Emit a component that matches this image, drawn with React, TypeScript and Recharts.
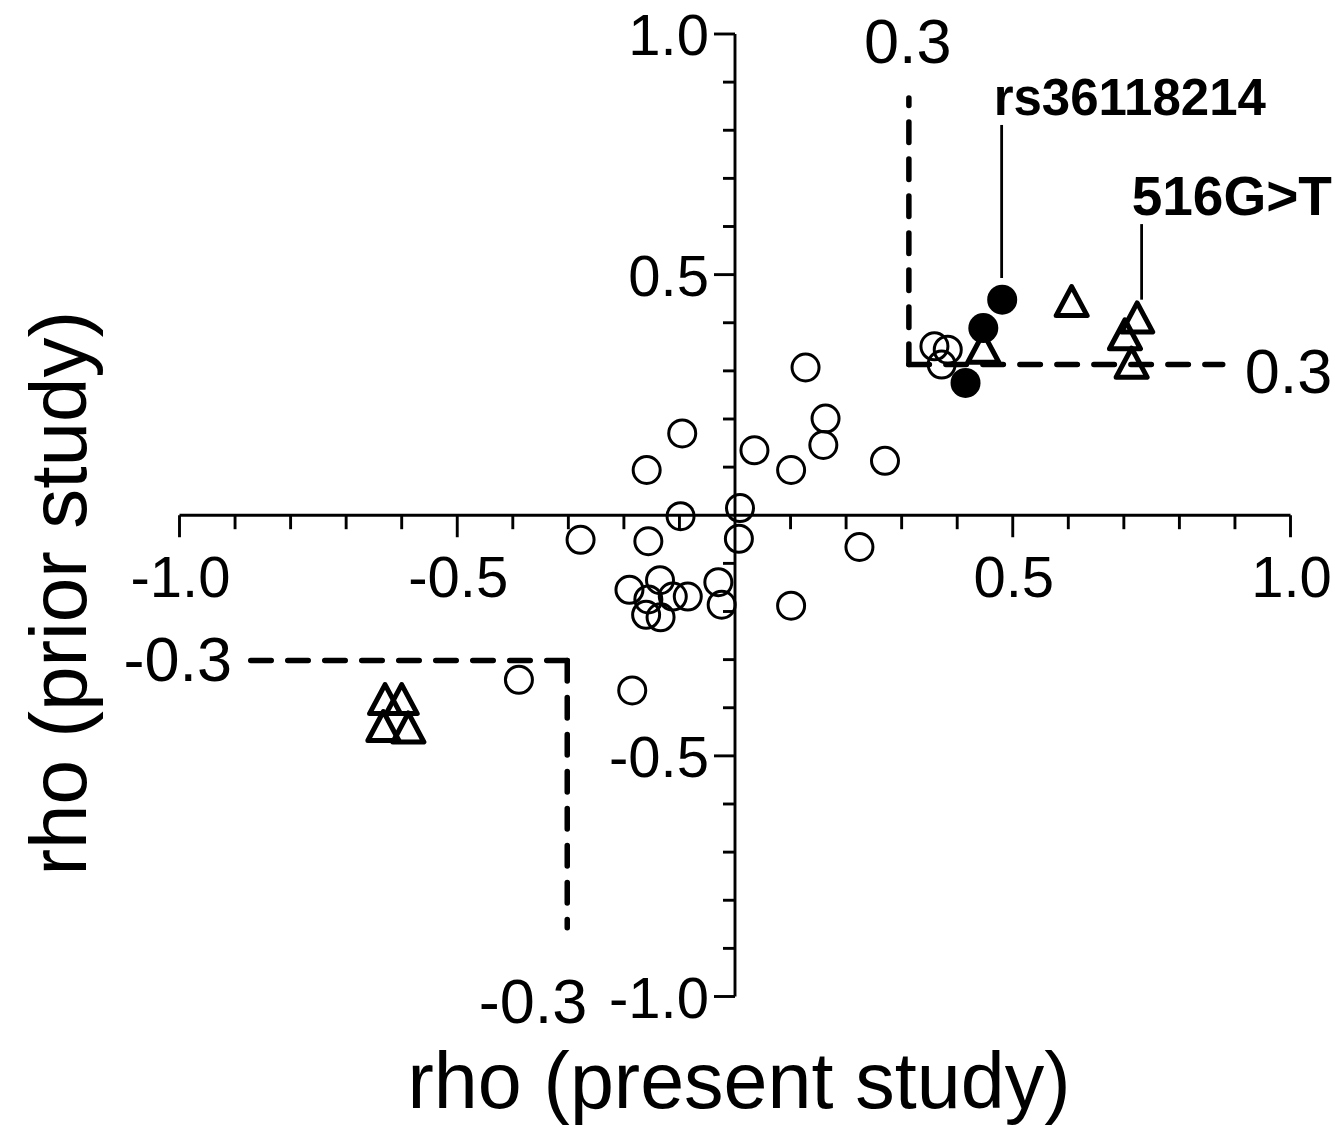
import { ReferenceLine, Scatter, ScatterChart, XAxis, YAxis } from 'recharts';

const FONT = 'Arial, "Liberation Sans", Helvetica, sans-serif';

// rho (present study) と rho (prior study) の組 — 白丸
const openCircles = [
  { x: 0.127, y: 0.307 },
  { x: 0.163, y: 0.201 },
  { x: 0.159, y: 0.146 },
  { x: -0.095, y: 0.17 },
  { x: -0.159, y: 0.094 },
  { x: 0.035, y: 0.135 },
  { x: 0.101, y: 0.094 },
  { x: 0.27, y: 0.113 },
  { x: -0.098, y: -0.002 },
  { x: 0.009, y: 0.015 },
  { x: -0.278, y: -0.051 },
  { x: -0.156, y: -0.054 },
  { x: 0.007, y: -0.049 },
  { x: 0.224, y: -0.066 },
  { x: -0.19, y: -0.155 },
  { x: -0.135, y: -0.135 },
  { x: -0.156, y: -0.175 },
  { x: -0.112, y: -0.169 },
  { x: -0.085, y: -0.169 },
  { x: -0.16, y: -0.207 },
  { x: -0.134, y: -0.212 },
  { x: -0.03, y: -0.139 },
  { x: -0.024, y: -0.186 },
  { x: 0.101, y: -0.188 },
  { x: -0.389, y: -0.342 },
  { x: -0.185, y: -0.364 },
  { x: 0.359, y: 0.351 },
  { x: 0.383, y: 0.344 },
  { x: 0.372, y: 0.313 },
];

// 黒丸
const filledCircles = [
  { x: 0.481, y: 0.448 },
  { x: 0.447, y: 0.389 },
  { x: 0.415, y: 0.275 },
];

// 三角
const triangles = [
  { x: 0.606, y: 0.444 },
  { x: 0.724, y: 0.41 },
  { x: 0.702, y: 0.375 },
  { x: 0.714, y: 0.316 },
  { x: 0.447, y: 0.347 },
  { x: -0.63, y: -0.383 },
  { x: -0.6, y: -0.383 },
  { x: -0.633, y: -0.439 },
  { x: -0.588, y: -0.442 },
];

// 軸目盛
const majorTicks = [-1.0, -0.5, 0.5, 1.0];
const majorTickLabels = ['-1.0', '-0.5', '0.5', '1.0'];
const minorTicks = [
  -0.9, -0.8, -0.7, -0.6, -0.4, -0.3, -0.2, -0.1, 0.1, 0.2, 0.3, 0.4, 0.6, 0.7, 0.8, 0.9,
];

// しきい値の破線（角の位置と先端）
const upperCut = 0.313;
const upperVerticalEnd = 0.867;
const upperHorizontalEnd = 0.878;
const upperLabels = ['0.3', '0.3'];
const lowerCut = -0.302;
const lowerHorizontalEnd = -0.9;
const lowerVerticalEnd = -0.857;
const lowerLabels = ['-0.3', '-0.3'];

// 注記（ラベルと引き出し線）
const annotationLabels = ['rs36118214', '516G>T'];
const annotationX = [0.48, 0.732];
const annotationTop = [0.811, 0.605];
const annotationBottom = [0.493, 0.448];

// 目盛長（データ単位）
const X_TICK_MAJOR = 0.0457;
const X_TICK_MINOR = 0.029;
const Y_TICK_MAJOR = 0.0378;
const Y_TICK_MINOR = 0.0216;

const AXIS_STROKE = 2.9;
const DASH = { stroke: '#000', strokeWidth: 5.5, strokeDasharray: '20.5 16.5', strokeLinecap: 'round' as const };

const OpenCircle = (p: any) => (
  <circle cx={p.cx} cy={p.cy} r={13.5} fill="none" stroke="#000" strokeWidth={3} />
);
const FilledCircle = (p: any) => <circle cx={p.cx} cy={p.cy} r={15} fill="#000" />;
const Triangle = (p: any) => (
  <path
    d={`M${p.cx},${p.cy - 15} L${p.cx + 15.5},${p.cy + 14} L${p.cx - 15.5},${p.cy + 14} Z`}
    fill="none"
    stroke="#000"
    strokeWidth={5}
    strokeLinejoin="round"
  />
);

const textStyle = { fontFamily: FONT, fill: '#000' };

export default function App() {
  return (
    <div style={{ position: 'absolute', left: 0, top: 0, width: 1335, height: 1129, background: '#fff' }}>
      <ScatterChart width={1335} height={1129} margin={{ top: 34, right: 44.5, bottom: 0, left: 0 }}>
        <XAxis
          type="number"
          dataKey="x"
          domain={[-1, 1]}
          allowDataOverflow
          height={132.5}
          tick={false}
          tickLine={false}
          axisLine={false}
          label={(p: any) => (
            <text
              x={p.viewBox.x + p.viewBox.width / 2 + 4}
              y={p.viewBox.y + 111}
              textAnchor="middle"
              fontSize={79}
              {...textStyle}
            >
              rho (present study)
            </text>
          )}
        />
        <YAxis
          type="number"
          dataKey="y"
          domain={[-1, 1]}
          allowDataOverflow
          width={179.5}
          tick={false}
          tickLine={false}
          axisLine={false}
          label={(p: any) => {
            const x = 86;
            const y = p.viewBox.y + p.viewBox.height / 2 + 78;
            return (
              <text x={x} y={y} transform={`rotate(-90, ${x}, ${y})`} textAnchor="middle" fontSize={80} {...textStyle}>
                rho (prior study)
              </text>
            );
          }}
        />

        {/* 軸線（原点で交差） */}
        <ReferenceLine y={0} stroke="#000" strokeWidth={AXIS_STROKE} />
        <ReferenceLine x={0} stroke="#000" strokeWidth={AXIS_STROKE} />

        {/* X軸の目盛 */}
        {minorTicks.map((t) => (
          <ReferenceLine
            key={`xm-${t}`}
            segment={[{ x: t, y: 0 }, { x: t, y: -X_TICK_MINOR }]}
            stroke="#000"
            strokeWidth={AXIS_STROKE}
          />
        ))}
        {majorTicks.map((t, i) => (
          <ReferenceLine
            key={`xM-${t}`}
            segment={[{ x: t, y: 0 }, { x: t, y: -X_TICK_MAJOR }]}
            stroke="#000"
            strokeWidth={AXIS_STROKE}
            label={(p: any) => (
              <text x={p.viewBox.x + 1} y={p.viewBox.y + 82} textAnchor="middle" fontSize={58} {...textStyle}>
                {majorTickLabels[i]}
              </text>
            )}
          />
        ))}

        {/* Y軸の目盛 */}
        {minorTicks.map((t) => (
          <ReferenceLine
            key={`ym-${t}`}
            segment={[{ x: 0, y: t }, { x: -Y_TICK_MINOR, y: t }]}
            stroke="#000"
            strokeWidth={AXIS_STROKE}
          />
        ))}
        {majorTicks.map((t, i) => (
          <ReferenceLine
            key={`yM-${t}`}
            segment={[{ x: 0, y: t }, { x: -Y_TICK_MAJOR, y: t }]}
            stroke="#000"
            strokeWidth={AXIS_STROKE}
            label={(p: any) => (
              <text
                x={p.viewBox.x + p.viewBox.width - 26}
                y={p.viewBox.y + 21}
                textAnchor="end"
                fontSize={58}
                {...textStyle}
              >
                {majorTickLabels[i]}
              </text>
            )}
          />
        ))}

        {/* しきい値の破線 */}
        <ReferenceLine
          segment={[{ x: upperCut, y: upperCut }, { x: upperCut, y: upperVerticalEnd }]}
          {...DASH}
          label={(p: any) => (
            <text x={p.viewBox.x - 1} y={p.viewBox.y - 35} textAnchor="middle" fontSize={63} {...textStyle}>
              {upperLabels[0]}
            </text>
          )}
        />
        <ReferenceLine
          segment={[{ x: upperCut, y: upperCut }, { x: upperHorizontalEnd, y: upperCut }]}
          {...DASH}
          label={(p: any) => (
            <text x={p.viewBox.x + p.viewBox.width + 22} y={p.viewBox.y + 28} textAnchor="start" fontSize={63} {...textStyle}>
              {upperLabels[1]}
            </text>
          )}
        />
        <ReferenceLine
          segment={[{ x: lowerCut, y: lowerCut }, { x: lowerHorizontalEnd, y: lowerCut }]}
          {...DASH}
          label={(p: any) => (
            <text x={p.viewBox.x - 3} y={p.viewBox.y + 20} textAnchor="end" fontSize={63} {...textStyle}>
              {lowerLabels[0]}
            </text>
          )}
        />
        <ReferenceLine
          segment={[{ x: lowerCut, y: lowerCut }, { x: lowerCut, y: lowerVerticalEnd }]}
          {...DASH}
          label={(p: any) => (
            <text
              x={p.viewBox.x + 20}
              y={p.viewBox.y + p.viewBox.height + 95}
              textAnchor="end"
              fontSize={63}
              {...textStyle}
            >
              {lowerLabels[1]}
            </text>
          )}
        />

        {/* 注記の引き出し線 */}
        <ReferenceLine
          segment={[{ x: annotationX[0], y: annotationBottom[0] }, { x: annotationX[0], y: annotationTop[0] }]}
          stroke="#000"
          strokeWidth={2.8}
          label={(p: any) => (
            <text
              x={p.viewBox.x - 8}
              y={p.viewBox.y - 10}
              textAnchor="start"
              fontSize={51}
              fontWeight="bold"
              {...textStyle}
            >
              {annotationLabels[0]}
            </text>
          )}
        />
        <ReferenceLine
          segment={[{ x: annotationX[1], y: annotationBottom[1] }, { x: annotationX[1], y: annotationTop[1] }]}
          stroke="#000"
          strokeWidth={2.8}
          label={(p: any) => (
            <text x={p.viewBox.x - 10} y={p.viewBox.y - 9} textAnchor="start" fontSize={55} fontWeight="bold" {...textStyle}>
              {annotationLabels[1]}
            </text>
          )}
        />

        <Scatter data={openCircles} shape={OpenCircle} isAnimationActive={false} />
        <Scatter data={filledCircles} shape={FilledCircle} isAnimationActive={false} />
        <Scatter data={triangles} shape={Triangle} isAnimationActive={false} />
      </ScatterChart>
    </div>
  );
}
